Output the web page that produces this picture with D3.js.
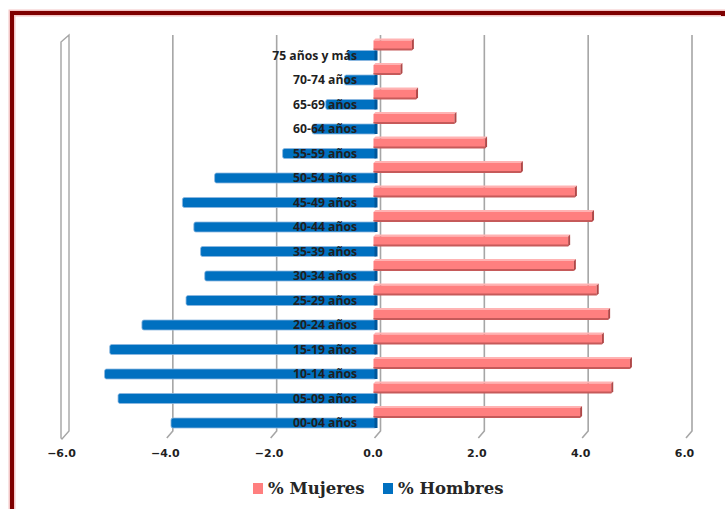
<!DOCTYPE html>
<html>
<head>
<meta charset="utf-8">
<script src="https://cdn.jsdelivr.net/npm/d3@7"></script>
<style>
  body { margin: 0; background: #fff; }
</style>
</head>
<body>
<div id="canvas"></div>
<script>
// ////////// DATA /////////////
var grupos = ["00-04 años", "05-09 años", "10-14 años", "15-19 años", "20-24 años",
  "25-29 años", "30-34 años", "35-39 años", "40-44 años", "45-49 años", "50-54 años",
  "55-59 años", "60-64 años", "65-69 años", "70-74 años", "75 años y más"];
var mujeres = [3.96, 4.56, 4.92, 4.38, 4.5, 4.28, 3.84, 3.73, 4.19, 3.86, 2.82, 2.13, 1.54, 0.8, 0.5, 0.72];
var hombres = [-3.92, -4.94, -5.2, -5.1, -4.48, -3.63, -3.27, -3.35, -3.48, -3.7, -3.08, -1.77, -1.2, -0.94, -0.58, -0.52];
var ticks = [-6, -4, -2, 0, 2, 4, 6];
var series = ["% Mujeres", "% Hombres"];

///////// GLOBAL VARS //////////
var width = 725, height = 509;
var dx = 6, dy = -7;   // depth offset of the back wall

var svg = d3.select("#canvas")
  .append("svg")
  .attr("width", width)
  .attr("height", height)
  .style("background-color", "#fff");

var x = d3.scaleLinear()
  .domain([-6, 6])
  .range([63, 686]);

var y = d3.scalePoint()
  .domain(grupos.slice().reverse())
  .range([55.5, 423]);

var color = d3.scaleOrdinal()
  .domain(series)
  .range(["#FF7F7F", "#0070C0"]);

// frame (only top and left edges show)
svg.append("path")
  .attr("d", "M12,509 L12,13 L725,13")
  .attr("fill", "none")
  .attr("stroke", "#F3C6C6")
  .attr("stroke-width", 7);
svg.append("path")
  .attr("d", "M12,509 L12,13 L723,13 L723,16")
  .attr("fill", "none")
  .attr("stroke", "#7F0000")
  .attr("stroke-width", 4);

// gridlines with a little floor slant
var gridTop = 35, gridBot = 431;
svg.selectAll("path.grid")
  .data(ticks.filter(d => d > -6))
  .join("path")
  .attr("class", "grid")
  .attr("d", d => `M${x(d) + dx},${gridTop} L${x(d) + dx},${gridBot} L${x(d)},${gridBot - dy}`)
  .attr("fill", "none")
  .attr("stroke", "#A6A6A6")
  .attr("stroke-width", 1.6);

// left wall
var wx = x(-6);
svg.append("path")
  .attr("d", `M${wx - 2},${gridTop - dy} L${wx + dx},${gridTop} L${wx + dx},${gridBot} L${wx - 1},${gridBot - dy + 1} L${wx - 2},${gridBot - dy} Z`)
  .attr("fill", "#fff")
  .attr("stroke", "#A6A6A6")
  .attr("stroke-width", 1.4);
svg.append("line")
  .attr("x1", wx - 2).attr("x2", wx - 2)
  .attr("y1", gridTop - dy).attr("y2", gridBot - dy)
  .attr("stroke", "#BDBDBD")
  .attr("stroke-width", 1.2);

// mujeres bars (back row)
var g = svg.append("g");
grupos.forEach((grp, i) => {
  var yc = y(grp) - 10;
  var x0 = x(0) - 1, x1 = x(mujeres[i]);
  // top face
  g.append("path")
    .attr("d", `M${x0},${yc - 5} L${x0 + 2},${yc - 7} L${x1 + 2},${yc - 7} L${x1},${yc - 5} Z`)
    .attr("fill", "#FFB3B3");
  g.append("rect")
    .attr("x", x0)
    .attr("y", yc - 5)
    .attr("width", x1 - x0)
    .attr("height", 9)
    .attr("fill", color(series[0]));
  g.append("rect")
    .attr("x", x0)
    .attr("y", yc + 3)
    .attr("width", x1 - x0)
    .attr("height", 2)
    .attr("fill", "#C65A5A");
  // right side
  g.append("path")
    .attr("d", `M${x1},${yc - 5} L${x1 + 2},${yc - 7} L${x1 + 2},${yc + 3} L${x1},${yc + 5} Z`)
    .attr("fill", "#B04848");
});

// hombres bars (front row)
grupos.forEach((grp, i) => {
  var yc = y(grp);
  var x0 = x(hombres[i]), x1 = x(0) + 2;
  g.append("rect")
    .attr("x", x0)
    .attr("y", yc - 5)
    .attr("width", x1 - x0)
    .attr("height", 10)
    .attr("rx", 2)
    .attr("fill", color(series[1]))
    .attr("stroke", "#8DB8E0")
    .attr("stroke-width", 0.8);
  g.append("rect")
    .attr("x", x1 - 2)
    .attr("y", yc - 5)
    .attr("width", 3)
    .attr("height", 10)
    .attr("fill", "#00569A");
});

// category labels
svg.selectAll("text.cat")
  .data(grupos)
  .join("text")
  .attr("class", "cat")
  .attr("x", 357)
  .attr("y", d => y(d) + 4)
  .attr("text-anchor", "end")
  .attr("font-family", "'Open Sans', 'Noto Sans', sans-serif")
  .attr("font-weight", "bold")
  .attr("font-size", "12.2px")
  .attr("fill", "#1F1F1F")
  .text(d => d);

// x tick labels
svg.selectAll("text.tick")
  .data(ticks)
  .join("text")
  .attr("class", "tick")
  .attr("x", d => x(d) - 1.5)
  .attr("y", 457)
  .attr("text-anchor", "middle")
  .attr("font-family", "'DejaVu Sans', Verdana, sans-serif")
  .attr("font-weight", "bold")
  .attr("font-size", "11px")
  .attr("fill", "#1F1F1F")
  .text(d => d3.format(".1f")(d));

// legend
var legend = svg.append("g").attr("transform", "translate(253, 494)");
var legX = [0, 130];
series.forEach((s, i) => {
  legend.append("rect")
    .attr("x", legX[i])
    .attr("y", -11)
    .attr("width", 10)
    .attr("height", 11)
    .attr("fill", color(s));
  legend.append("text")
    .attr("x", legX[i] + 15)
    .attr("y", 0)
    .attr("font-family", "'DejaVu Serif', 'Liberation Serif', serif")
    .attr("font-weight", "bold")
    .attr("font-size", "16.5px")
    .attr("fill", "#262626")
    .text(s);
});
</script>
</body>
</html>
